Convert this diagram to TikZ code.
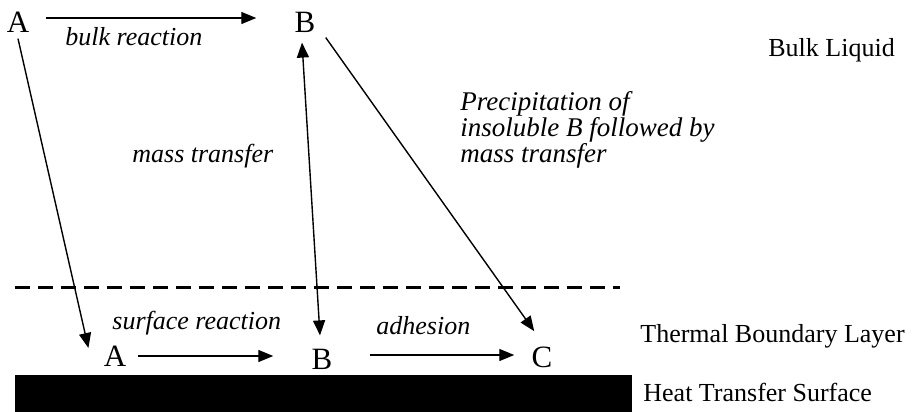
\documentclass[tikz,border=0pt]{standalone}
\usepackage{fontspec}
\setmainfont{Liberation Serif}[
  UprightFont={Liberation Serif},
  ItalicFont={Liberation Serif Italic},
  BoldFont={Liberation Serif Bold}]
\usetikzlibrary{arrows.meta, calc}

\begin{document}
\begin{tikzpicture}[
  x=0.5pt, y=-0.5pt,
  every node/.style={font=\fontsize{13}{14}\selectfont, inner sep=1pt},
  species/.style={font=\fontsize{15.5}{16}\selectfont, inner sep=1.5pt},
  lbl/.style={font=\fontsize{13}{12.5}\selectfont\itshape, anchor=west, inner sep=0pt},
  zone/.style={anchor=west, inner sep=0pt},
  arrow/.style={-{Triangle[length=7.5pt, width=6pt]}, line width=0.7pt},
  twoway/.style={{Triangle[length=7.5pt, width=6pt]}-{Triangle[length=7.5pt, width=6pt]}, line width=0.7pt}
]
  \useasboundingbox (0,0) rectangle (917,412);

  % Heat transfer surface and edge of the boundary layer
  \fill (15,375) rectangle (632,412);
  \draw[line width=1.5pt, dash pattern=on 7.5pt off 4pt] (15,287) -- (620,287);

  % Species in the bulk and at the wall
  \node[species] (Abulk) at (18,22) {A};
  \node[species] (Bbulk) at (305,22) {B};
  \node[species] (Asurf) at (115,356) {A};
  \node[species] (Bsurf) at (322,359) {B};
  \node[species] (Csurf) at (542,357) {C};

  % Process labels
  \node[lbl] (bulkrx) at (65,37) {bulk reaction};
  \node[lbl] (masstr) at (132,156) {mass transfer};
  \node[lbl, anchor=north west, align=left, font=\fontsize{13.5}{13}\selectfont\itshape] (precip) at (460,91) {Precipitation of\\insoluble B followed by\\mass transfer};
  \node[lbl] (surfrx) at (112,323) {surface reaction};
  \node[lbl] (adh) at (376,326) {adhesion};

  % Zone names
  \node[zone] (bulkliq) at (768,50) {Bulk Liquid};
  \node[zone] (tbl) at (640,336) {Thermal Boundary Layer};
  \node[zone] (hts) at (643,392) {Heat Transfer Surface};

  % Reactions
  \draw[arrow] ([shift={(13,-4)}]Abulk.east) -- ([shift={(-35,-4)}]Bbulk.west);
  \draw[arrow] ([shift={(8,0)}]Asurf.east) -- ([shift={(-35,-3)}]Bsurf.west);
  \draw[arrow] ([shift={(34,-4)}]Bsurf.east) -- ([shift={(-14,-2)}]Csurf.west);

  % Transfer between bulk and wall
  \draw[arrow] ([shift={(0,3)}]Abulk.south) -- ([shift={(-12,-8)}]Asurf.west);
  \draw[twoway] ([shift={(-3,7)}]Bbulk.south) -- ([shift={(-2,-10)}]Bsurf.north);
  \draw[arrow] ([shift={(7,2)}]Bbulk.south east) -- ([shift={(6,-12)}]Csurf.north west);

\end{tikzpicture}
\end{document}
